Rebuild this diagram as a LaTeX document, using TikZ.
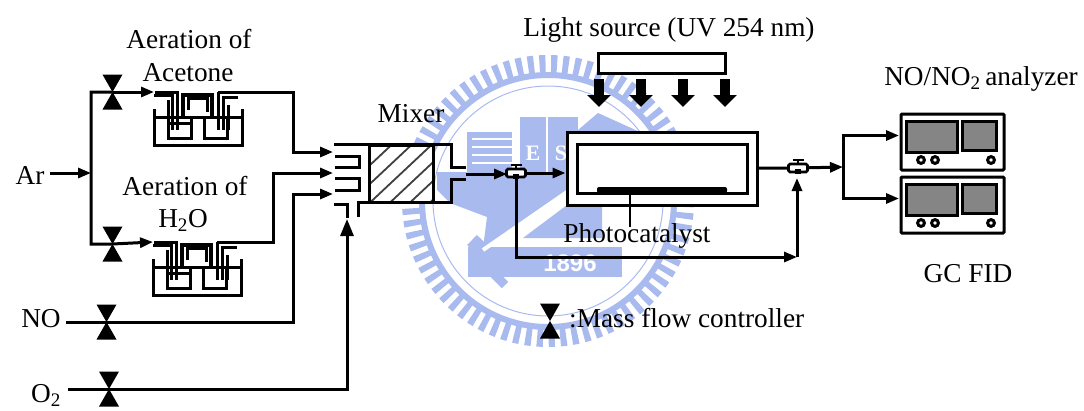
\documentclass[tikz,border=0pt]{standalone}
\usepackage{fontspec}
\setmainfont{Liberation Serif}
\setsansfont{Liberation Sans}
\usepackage{xcolor}
\usetikzlibrary{arrows.meta}

\definecolor{sealblue}{HTML}{A9BAEF}

\tikzset{
    lbl/.style={font=\fontsize{27.3}{30}\selectfont,anchor=base,inner sep=0pt},
    pipe/.style={line width=3pt,line join=miter},
    flow/.style={pipe,-{Triangle[length=13pt,width=10pt]}},
    valve/.style={inner sep=0pt,minimum width=20pt,minimum height=35pt,
        path picture={\fill (path picture bounding box.north west) -- (path picture bounding box.north east)
            -- (path picture bounding box.south west) -- (path picture bounding box.south east) -- cycle;}},
    beam/.style={line width=10pt,-{Triangle[length=12pt,width=23pt]}},
    aerator/.pic={
        \coordinate (-in) at (0,0);
        \coordinate (-out) at (64,0);
        % Сосуд и уровень жидкости
        \draw[pipe] (0,17) -- (0,53) -- (88,53) -- (88,17);
        \draw[pipe] (0,25) -- (88,25);
        \draw[pipe] (14,25) -- (14,46) -- (37,46) -- (37,25);
        \draw[pipe] (50,25) -- (50,46) -- (73,46) -- (73,25);
        \draw[pipe] (14,31) -- (37,31);
        % Трубки
        \draw[pipe] (0,3) -- (18,3) -- (18,38);
        \draw[pipe] (1,0) -- (23,0) -- (23,38);
        \draw[pipe] (14,8) -- (14,38);
        \draw[pipe,line width=3.6pt] (29,25) -- (29,3) -- (58,3) -- (58,25);
        \draw[pipe] (34,18) -- (34,6) -- (53,6) -- (53,20);
        \draw[pipe] (64,0) -- (64,38);
        \draw[pipe] (69,38) -- (69,5) -- (84,5);
        \draw[pipe] (74,13) -- (74,38);
    },
    tvalve/.pic={
        \coordinate (-w) at (-9,0);
        \coordinate (-s) at (0,5);
        \draw[line width=2.6pt] (-5.5,-8) -- (5.5,-8);
        \draw[line width=2.6pt] (0,-8) -- (0,-4);
        \draw[line width=2.6pt,fill=white,rounded corners=1.5pt] (-9.5,-4) rectangle (9.5,4);
        \fill (-3,0.5) rectangle (3,6);
        \fill[white] (-5.5,-1.5) rectangle (5.5,1);
    },
    analyzer/.pic={
        \coordinate (-in) at (-2,21.5);
        \draw[pipe,rounded corners=1pt] (0,0) rectangle (103,56);
        \draw[pipe,fill=black!48] (5,7) rectangle (56,38);
        \draw[pipe,fill=black!48] (61,7) rectangle (95,36);
        \foreach \x in {20,34,90}
            \draw[pipe,fill=white] (\x,46) circle (3.4);
    },
}

\begin{document}
\begin{tikzpicture}[x=1pt,y=-1pt]
    \useasboundingbox (0,0) rectangle (1084,410);

    % Эмблема на фоне
    \begin{scope}[sealblue]
        \draw[line width=20pt,dash pattern=on 6pt off 5.5pt] (548,201) circle (136);
        \draw[line width=6pt] (548,201) circle (126);
        \draw[line width=1pt] (548,201) circle (115);
        \fill (467,132) rectangle (512,176);
        \foreach \y in {138,146,154,162}
            \fill[white] (472,\y) rectangle (512,\y+2);
        \fill (520,117) rectangle (546,176);
        \fill (548,117) rectangle (578,176);
        \fill (578,130) -- (598,113) -- (640,132) -- (640,176) -- (578,176) -- cycle;
        \fill (437,172) -- (567,172) -- (567,190) -- (483,248) -- (487,217) -- (450,203) -- (437,190) -- cycle;
        \fill (523,238) -- (567,205) -- (602,205) -- (602,238) -- cycle;
        \fill (468,247) rectangle (622,277);
        \draw[line width=14pt] (472,240) -- (497,264);
        \draw[line width=9pt] (494,274) -- (505,285);
        \draw[white,line width=4pt] (483,250) -- (567,192);
        \node[lbl,white,font=\bfseries\fontsize{22}{24}\selectfont] (sealE) at (533,160) {E};
        \node[lbl,white,font=\bfseries\fontsize{22}{24}\selectfont] (sealS) at (561,160) {S};
        \node[lbl,white,font=\bfseries\sffamily\fontsize{24}{26}\selectfont] (sealYear) at (570,271) {1896};
    \end{scope}

    % Подписи
    \node[lbl] (titleAcetone) at (189,48) {Aeration of};
    \node[lbl] (nameAcetone) at (188,81) {Acetone};
    \node[lbl] (titleWater) at (185,195) {Aeration of};
    \node[lbl] (nameWater) at (183,227) {H\textsubscript{2}O};
    \node[lbl] (ar) at (30,184) {Ar};
    \node[lbl] (no) at (41,327) {NO};
    \node[lbl] (oxy) at (46,402) {O\textsubscript{2}};
    \node[lbl] (mixerName) at (411,122) {Mixer};
    \node[lbl] (lightName) at (669,36) {Light source (UV 254 nm)};
    \node[lbl] (catalystName) at (637,242) {Photocatalyst};
    \node[lbl] (analyzerName) at (981,85) {NO/NO\textsubscript{2}\,analyzer};
    \node[lbl] (gcName) at (968,282) {GC FID};
    \node[lbl,anchor=base west] (legendName) at (569,327) {:Mass flow controller};

    % Расходомеры
    \node[valve] (valveAcetone) at (112.5,92) {};
    \node[valve] (valveWater) at (112.5,244) {};
    \node[valve] (valveNo) at (106.5,322) {};
    \node[valve] (valveOxy) at (109,389) {};
    \node[valve] (valveLegend) at (550,321) {};

    % Барботеры
    \pic (acetone) at (154,92) {aerator};
    \pic (water) at (153,242) {aerator};

    % Смеситель
    \node[draw,pipe,fill=white,minimum width=64pt,minimum height=57pt,inner sep=0pt,
        path picture={\foreach \x in {-80,-60,...,80}
            \draw[line width=1.8pt,black!75] (\x-32,30) -- (\x+32,-30);}] (mixer) at (401,173.5) {};
    \draw[pipe] (334,144) -- (451,144) -- (451,167) -- (466,167);
    \draw[pipe] (357,202) -- (451,202) -- (451,179) -- (466,179);
    \draw[pipe] (335,156) -- (359,156) -- (359,167) -- (335,167);
    \draw[pipe] (335,178) -- (359,178) -- (359,190) -- (335,190);
    \draw[pipe] (334,204) -- (347,204) -- (347,218);
    \draw[pipe] (358,202) -- (358,217);

    % Трубопроводы на входе
    \coordinate (arIn) at (50,173);
    \coordinate (arJoin) at (91,173);
    \coordinate (noIn) at (66,322);
    \coordinate (oxyIn) at (68,389);
    \draw[flow] (arIn) -- (arJoin);
    \draw[flow] (valveAcetone.center) -- (91,92) -- (91,244) -- (valveWater.center) -- (water-in);
    \draw[flow] (valveAcetone.center) -- (acetone-in);
    \draw[flow] (acetone-out) -- (293,92) -- (293,152) -- (333,152);
    \draw[flow] (water-out) -- (273,242) -- (273,173) -- (333,173);
    \draw[flow] (noIn) -- (valveNo.center) -- (293,322) -- (293,194) -- (333,194);
    \draw[pipe,-{Triangle[length=17pt,width=13pt]}] (oxyIn) -- (valveOxy.center) -- (347,389) -- (347,219);

    % Лампа и лучи
    \node[draw,pipe,fill=white,minimum width=127pt,minimum height=20pt,inner sep=0pt] (lamp) at (661.5,63) {};
    \foreach \x in {599,641,683,725}
        \draw[beam] (\x,79) -- (\x,107);

    % Реактор
    \node[draw,pipe,fill=white,minimum width=190pt,minimum height=73pt,inner sep=0pt] (reactor) at (662,168.5) {};
    \node[draw,pipe,fill=white,minimum width=170pt,minimum height=49pt,inner sep=0pt] (chamber) at (662,168.5) {};
    \node[fill,rounded corners=2pt,minimum width=130pt,minimum height=6pt,inner sep=0pt] (catalyst) at (662,190) {};
    \draw[line width=2.2pt] (630,190) -- (630,227);

    % Обводная линия и выход
    \coordinate (valveInPos) at (516,173);
    \coordinate (valveOutPos) at (798,168);
    \coordinate (bypassLow) at (516,257);
    \coordinate (bypassEnd) at (797,257);
    \coordinate (splitPos) at (843,167);
    \draw[flow] (466,174) -- (507,174);
    \draw[flow] (valveInPos) -- (reactor.west |- valveInPos);
    \draw[flow] (valveInPos) -- (bypassLow) -- (bypassEnd);
    \draw[flow] (bypassEnd) -- (797,178);
    \draw[flow] (reactor.east |- valveOutPos) -- (valveOutPos) -- (splitPos);
    \pic (valveIn) at (valveInPos) {tvalve};
    \pic (valveOut) at (valveOutPos) {tvalve};

    % Анализаторы
    \pic (nox) at (901,114) {analyzer};
    \pic (gc) at (901,177) {analyzer};
    \draw[flow] (splitPos) -- (843,135.5) -- (nox-in);
    \draw[flow] (splitPos) -- (843,198.5) -- (gc-in);

\end{tikzpicture}
\end{document}
